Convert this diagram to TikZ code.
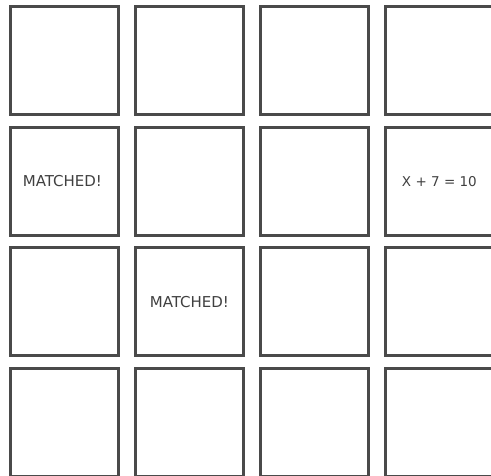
\documentclass[tikz,border=0pt]{standalone}
\usepackage{fontspec}
\setmainfont{DejaVu Sans}
\definecolor{edge}{HTML}{4A4A4A}
\definecolor{txt}{HTML}{404040}
\begin{document}
\begin{tikzpicture}[x=1pt,y=1pt,
  card/.style={draw=edge,line width=2.4pt,fill=white,minimum width=108pt,minimum height=108pt,inner sep=0pt,anchor=north west},
  label/.style={text=txt,inner sep=0pt,font=\fontsize{15}{17}\selectfont}]
\useasboundingbox[fill=white] (0,0) rectangle (491,476);
\foreach \r/\top in {0/5.2,1/126.2,2/246.5,3/367.2}{
  \foreach \c in {0,1,2,3}{
    \pgfmathsetmacro{\xx}{9.2+125*\c}
    \pgfmathsetmacro{\yy}{476-\top}
    \node[card] (b\r\c) at (\xx,\yy) {};
  }
}
\node[label] (t1) at ([xshift=-2pt]b10.center) {MATCHED!};
\node[label,font=\fontsize{13.5}{15}\selectfont] (t2) at (b13.center) {X + 7 = 10};
\node[label] (t3) at (b21.center) {MATCHED!};
\end{tikzpicture}
\end{document}
